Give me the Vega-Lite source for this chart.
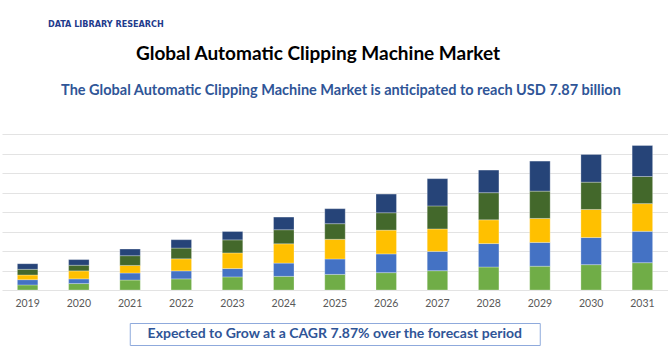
{
  "$schema": "https://vega.github.io/schema/vega-lite/v6.json",
  "padding": {"left": 2, "top": 20, "right": 0, "bottom": 0},
  "background": "white",
  "title": {
    "text": "DATA LIBRARY RESEARCH",
    "anchor": "start",
    "dx": 46,
    "font": "DejaVu Sans Condensed",
    "fontSize": 9,
    "fontWeight": "bold",
    "color": "#1F3B8C",
    "offset": 16
  },
  "config": {
    "view": {"stroke": null},
    "font": "Lato"
  },
  "spacing": 13,
  "center": true,
  "vconcat": [
    {
      "width": 666,
      "height": 40,
      "title": {
        "text": "Global Automatic Clipping Machine Market",
        "font": "Lato",
        "fontSize": 19,
        "fontWeight": "bold",
        "color": "#000000",
        "offset": 17,
        "dx": -17,
        "anchor": "middle"
      },
      "data": {"values": [{"label": "The Global Automatic Clipping Machine Market is anticipated to reach USD 7.87 billion"}]},
      "mark": {
        "type": "text",
        "font": "Lato",
        "fontSize": 14.5,
        "fontWeight": "bold",
        "color": "#2F5597",
        "align": "center",
        "baseline": "middle",
        "dx": 6,
        "dy": -10
      },
      "encoding": {
        "text": {"field": "label", "type": "nominal"}
      }
    },
    {
      "width": 666,
      "height": 156,
      "data": {
        "values": [
          {"year": "2019", "segment": "Segment 1", "value": 0.26},
          {"year": "2019", "segment": "Segment 2", "value": 0.27},
          {"year": "2019", "segment": "Segment 3", "value": 0.24},
          {"year": "2019", "segment": "Segment 4", "value": 0.29},
          {"year": "2019", "segment": "Segment 5", "value": 0.29},
          {"year": "2020", "segment": "Segment 1", "value": 0.33},
          {"year": "2020", "segment": "Segment 2", "value": 0.24},
          {"year": "2020", "segment": "Segment 3", "value": 0.41},
          {"year": "2020", "segment": "Segment 4", "value": 0.29},
          {"year": "2020", "segment": "Segment 5", "value": 0.29},
          {"year": "2021", "segment": "Segment 1", "value": 0.51},
          {"year": "2021", "segment": "Segment 2", "value": 0.36},
          {"year": "2021", "segment": "Segment 3", "value": 0.39},
          {"year": "2021", "segment": "Segment 4", "value": 0.5},
          {"year": "2021", "segment": "Segment 5", "value": 0.34},
          {"year": "2022", "segment": "Segment 1", "value": 0.57},
          {"year": "2022", "segment": "Segment 2", "value": 0.41},
          {"year": "2022", "segment": "Segment 3", "value": 0.62},
          {"year": "2022", "segment": "Segment 4", "value": 0.55},
          {"year": "2022", "segment": "Segment 5", "value": 0.43},
          {"year": "2023", "segment": "Segment 1", "value": 0.67},
          {"year": "2023", "segment": "Segment 2", "value": 0.43},
          {"year": "2023", "segment": "Segment 3", "value": 0.8},
          {"year": "2023", "segment": "Segment 4", "value": 0.67},
          {"year": "2023", "segment": "Segment 5", "value": 0.43},
          {"year": "2024", "segment": "Segment 1", "value": 0.7},
          {"year": "2024", "segment": "Segment 2", "value": 0.68},
          {"year": "2024", "segment": "Segment 3", "value": 0.99},
          {"year": "2024", "segment": "Segment 4", "value": 0.72},
          {"year": "2024", "segment": "Segment 5", "value": 0.65},
          {"year": "2025", "segment": "Segment 1", "value": 0.8},
          {"year": "2025", "segment": "Segment 2", "value": 0.79},
          {"year": "2025", "segment": "Segment 3", "value": 1.01},
          {"year": "2025", "segment": "Segment 4", "value": 0.8},
          {"year": "2025", "segment": "Segment 5", "value": 0.77},
          {"year": "2026", "segment": "Segment 1", "value": 0.89},
          {"year": "2026", "segment": "Segment 2", "value": 0.96},
          {"year": "2026", "segment": "Segment 3", "value": 1.22},
          {"year": "2026", "segment": "Segment 4", "value": 0.89},
          {"year": "2026", "segment": "Segment 5", "value": 0.96},
          {"year": "2027", "segment": "Segment 1", "value": 0.99},
          {"year": "2027", "segment": "Segment 2", "value": 0.99},
          {"year": "2027", "segment": "Segment 3", "value": 1.15},
          {"year": "2027", "segment": "Segment 4", "value": 1.18},
          {"year": "2027", "segment": "Segment 5", "value": 1.4},
          {"year": "2028", "segment": "Segment 1", "value": 1.18},
          {"year": "2028", "segment": "Segment 2", "value": 1.2},
          {"year": "2028", "segment": "Segment 3", "value": 1.22},
          {"year": "2028", "segment": "Segment 4", "value": 1.39},
          {"year": "2028", "segment": "Segment 5", "value": 1.16},
          {"year": "2029", "segment": "Segment 1", "value": 1.22},
          {"year": "2029", "segment": "Segment 2", "value": 1.22},
          {"year": "2029", "segment": "Segment 3", "value": 1.23},
          {"year": "2029", "segment": "Segment 4", "value": 1.4},
          {"year": "2029", "segment": "Segment 5", "value": 1.54},
          {"year": "2030", "segment": "Segment 1", "value": 1.3},
          {"year": "2030", "segment": "Segment 2", "value": 1.39},
          {"year": "2030", "segment": "Segment 3", "value": 1.44},
          {"year": "2030", "segment": "Segment 4", "value": 1.4},
          {"year": "2030", "segment": "Segment 5", "value": 1.42},
          {"year": "2031", "segment": "Segment 1", "value": 1.4},
          {"year": "2031", "segment": "Segment 2", "value": 1.61},
          {"year": "2031", "segment": "Segment 3", "value": 1.42},
          {"year": "2031", "segment": "Segment 4", "value": 1.39},
          {"year": "2031", "segment": "Segment 5", "value": 1.59}
        ]
      },
      "mark": {"type": "bar", "stroke": "#ffffff", "strokeOpacity": 0.35, "strokeWidth": 0.8},
      "encoding": {
        "x": {
          "field": "year",
          "type": "ordinal",
          "scale": {"paddingInner": 0.6, "paddingOuter": 0.3},
          "axis": {
            "title": null,
            "labelAngle": 0,
            "domain": false,
            "ticks": false,
            "labelColor": "#595959",
            "labelFontSize": 10.5,
            "labelFont": "Lato",
            "labelPadding": 8
          }
        },
        "y": {
          "field": "value",
          "type": "quantitative",
          "aggregate": "sum",
          "stack": "zero",
          "scale": {"domain": [0, 8], "nice": false},
          "axis": {
            "title": null,
            "labels": false,
            "ticks": false,
            "domain": false,
            "values": [0, 1, 2, 3, 4, 5, 6, 7, 8],
            "gridColor": "#E3E3E3",
            "gridWidth": 1.2
          }
        },
        "color": {
          "field": "segment",
          "type": "nominal",
          "scale": {
            "domain": ["Segment 1", "Segment 2", "Segment 3", "Segment 4", "Segment 5"],
            "range": ["#70AD47", "#4472C4", "#FFC000", "#43682B", "#264478"]
          },
          "legend": null
        },
        "order": {"field": "segment", "sort": "ascending"}
      }
    },
    {
      "width": 410,
      "height": 22,
      "view": {"stroke": "#8FAADC", "strokeWidth": 1, "fill": "white"},
      "data": {"values": [{"label": "Expected to Grow at a CAGR 7.87% over the forecast period"}]},
      "mark": {
        "type": "text",
        "font": "Lato",
        "fontSize": 14,
        "fontWeight": "bold",
        "color": "#2F5597",
        "align": "center",
        "baseline": "middle"
      },
      "encoding": {
        "text": {"field": "label", "type": "nominal"}
      }
    }
  ]
}
